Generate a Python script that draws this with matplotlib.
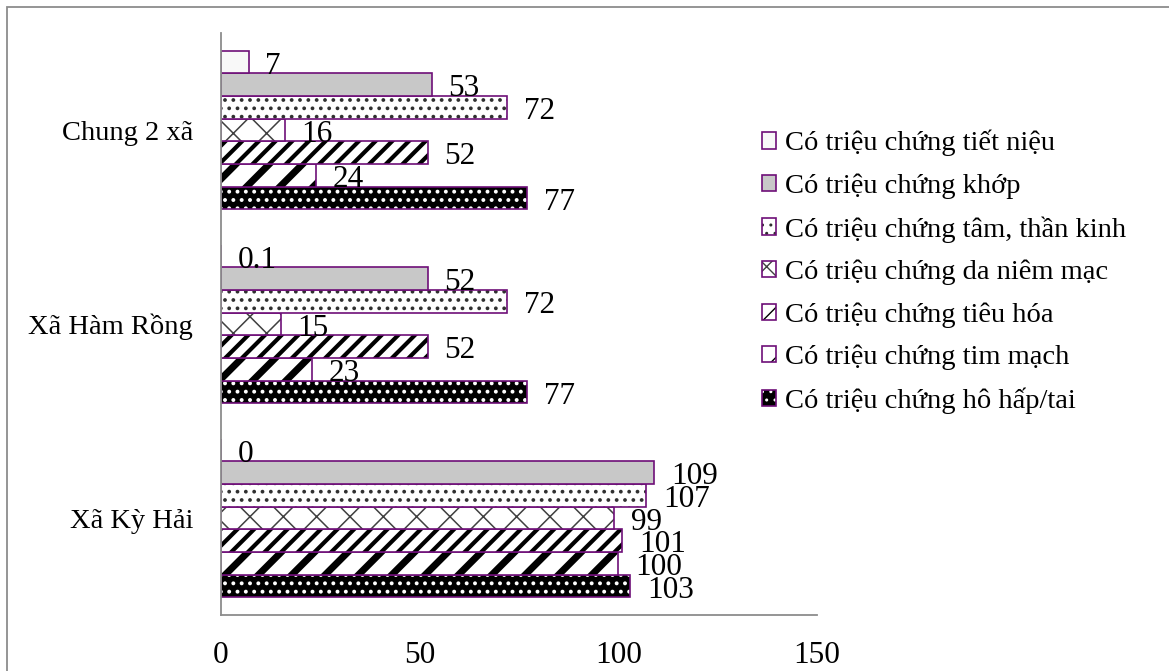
import matplotlib
matplotlib.use("Agg")
import matplotlib.pyplot as plt
import numpy as np
from matplotlib.legend_handler import HandlerTuple
from matplotlib.patches import Rectangle, Patch

plt.rcParams['font.family'] = ['Liberation Serif', 'DejaVu Serif']

categories = ["Xã Kỳ Hải", "Xã Hàm Rồng", "Chung 2 xã"]
series_names = [
    "Có triệu chứng hô hấp/tai",
    "Có triệu chứng tim mạch",
    "Có triệu chứng tiêu hóa",
    "Có triệu chứng da niêm mạc",
    "Có triệu chứng tâm, thần kinh",
    "Có triệu chứng khớp",
    "Có triệu chứng tiết niệu",
]
ho_hap = [103, 77, 77]
tim_mach = [100, 23, 24]
tieu_hoa = [101, 52, 52]
da_niem_mac = [99, 15, 16]
tam_than_kinh = [107, 72, 72]
khop = [109, 52, 53]
tiet_nieu = [0, 0.1, 7]
series_values = [ho_hap, tim_mach, tieu_hoa, da_niem_mac, tam_than_kinh, khop, tiet_nieu]
xticks = [0, 50, 100, 150]

# styles: (facecolor, hatchcolor, hatch, hatch_lw)
styles = [
    ("black", "white", "..", 1.6),
    ("white", "black", "/", 5.0),
    ("white", "black", "//", 3.0),
    ("white", "#404040", "x", 1.1),
    ("white", "#303030", "..", 1.5),
    ("#c8c8c8", "#c8c8c8", None, 1.0),
    ("#f8f8f8", "#f8f8f8", None, 1.0),
]
purple = "#6e0f78"
FS = 20.5
FSN = 22.5

fig = plt.figure(figsize=(11.69, 6.71), dpi=100)
ax = fig.add_axes([221/1169, 1-615/671, (817-221)/1169, (615-33)/671])

y = np.arange(len(categories))
h = 0.117
handles = []
for i, (vals, st) in enumerate(zip(series_values, styles)):
    face, hcol, hatch, hlw = st
    pos = y + (i - 3) * h
    a = ax.barh(pos, vals, height=h, color=face, edgecolor=hcol, hatch=hatch, linewidth=0)
    for p in a:
        if hasattr(p, "set_hatch_linewidth"):
            p.set_hatch_linewidth(hlw)
    ax.barh(pos, vals, height=h, fill=False, edgecolor=purple, linewidth=1.2)
    for v, yy in zip(vals, pos):
        ax.annotate(f"{v:g}", xy=(v, yy), xytext=(12, -3), textcoords="offset points",
                    ha="left", va="center", fontsize=FSN)
    hp = Patch(facecolor=face, edgecolor=hcol, hatch=hatch, linewidth=0)
    if hasattr(hp, "set_hatch_linewidth"):
        hp.set_hatch_linewidth(hlw)
    op = Patch(fill=False, edgecolor=purple, linewidth=1.2)
    handles.append((hp, op))

ax.set_xlim(0, 150)
ax.set_ylim(-0.5, 2.5)
ax.set_xticks(xticks)
ax.set_xticklabels([str(t) for t in xticks], fontsize=FSN)
ax.set_yticks(y)
ax.set_yticklabels(categories, fontsize=FS)
ax.tick_params(axis="both", length=0)
ax.tick_params(axis="x", pad=19)
ax.tick_params(axis="y", pad=20)
for s in ["top", "right"]:
    ax.spines[s].set_visible(False)
for s in ["left", "bottom"]:
    ax.spines[s].set_color("#8c8c8c")
    ax.spines[s].set_linewidth(1.3)

leg = fig.legend(handles[::-1], series_names[::-1], loc="upper left",
                 bbox_to_anchor=(762/1169, 1-130/671), frameon=False,
                 fontsize=FS, handlelength=0.5, handleheight=0.5, handletextpad=0.3,
                 labelspacing=0.6, borderpad=0, borderaxespad=0,
                 handler_map={tuple: HandlerTuple(ndivide=1, pad=0)})

fig.patches.append(Rectangle((7/1169, -0.1), 2, 1.1 - 7/671, transform=fig.transFigure,
                             fill=False, edgecolor="#8c8c8c", linewidth=1.3))

fig.savefig("out.png", dpi=100)
